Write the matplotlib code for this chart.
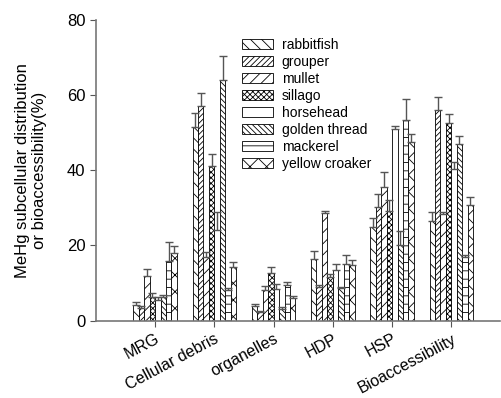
import numpy as np
import matplotlib.pyplot as plt

plt.rcParams['font.family'] = ['Liberation Sans', 'DejaVu Sans']
plt.rcParams['hatch.linewidth'] = 0.6

categories = ["MRG", "Cellular debris", "organelles", "HDP", "HSP", "Bioaccessibility"]
species = ["rabbitfish", "grouper", "mullet", "sillago", "horsehead",
           "golden thread", "mackerel", "yellow croaker"]

# mean values (%) per species, one entry per fraction
rabbitfish = [4.2, 51.5, 3.8, 16.5, 24.9, 26.5]
grouper = [3.4, 57.0, 2.4, 9.0, 30.1, 56.1]
mullet = [12.0, 17.0, 8.2, 28.5, 35.4, 28.3]
sillago = [6.3, 41.0, 12.6, 11.7, 29.1, 52.4]
horsehead = [5.5, 24.0, 8.5, 13.5, 50.8, 40.2]
golden_thread = [6.3, 64.0, 3.2, 8.6, 20.1, 46.9]
mackerel = [15.9, 8.1, 9.5, 15.0, 53.3, 17.0]
yellow_croaker = [18.1, 14.2, 6.0, 14.8, 47.5, 30.7]

# upper error (SD)
rabbitfish_err = [0.8, 3.8, 0.6, 2.1, 2.5, 2.3]
grouper_err = [0.4, 3.6, 0.3, 0.5, 3.5, 3.2]
mullet_err = [1.8, 1.2, 1.0, 0.7, 4.1, 0.6]
sillago_err = [1.2, 3.3, 1.7, 0.7, 2.9, 2.5]
horsehead_err = [0.9, 5.0, 1.3, 1.7, 0.9, 2.0]
golden_thread_err = [0.5, 6.3, 0.4, 0.4, 3.8, 2.2]
mackerel_err = [4.9, 0.6, 0.9, 2.4, 5.5, 0.6]
yellow_croaker_err = [1.7, 1.5, 0.6, 1.3, 2.2, 2.2]

means = [rabbitfish, grouper, mullet, sillago, horsehead, golden_thread, mackerel, yellow_croaker]
errs = [rabbitfish_err, grouper_err, mullet_err, sillago_err, horsehead_err,
        golden_thread_err, mackerel_err, yellow_croaker_err]
hatches = ['\\\\\\', '//////', '///', 'xxxxxx', '', '\\\\\\\\\\\\', '--', 'xx']

fig = plt.figure(figsize=(5.02, 3.98), dpi=100)
ax = fig.add_axes([0.191, 0.194, 0.806, 0.757])

x = np.arange(1, len(categories) + 1)
w = 0.092
n = len(species)
for i in range(n):
    pos = x + (i - (n - 1) / 2) * w
    ax.bar(pos, means[i], width=w, color='white', edgecolor='black',
           linewidth=0.6, hatch=hatches[i], label=species[i], zorder=2)
    ax.errorbar(pos, means[i], yerr=[np.zeros(len(x)), errs[i]], fmt='none',
                ecolor='#555555', elinewidth=1.0, capsize=3, capthick=1.0, zorder=3)

ax.set_xlim(0, 6.83)
ax.set_ylim(0, 80)
ax.set_yticks([0, 20, 40, 60, 80])
ax.set_xticks(x)
ax.set_xticklabels(categories, rotation=28, ha='right', rotation_mode='anchor', fontsize=11.5)
ax.tick_params(axis='y', labelsize=12, direction='out', length=4, color='#555555')
ax.tick_params(axis='x', direction='out', length=4, color='#555555')
for s in ['top', 'right']:
    ax.spines[s].set_visible(False)
for s in ['left', 'bottom']:
    ax.spines[s].set_color('#777777')
    ax.spines[s].set_linewidth(1.2)

ax.set_ylabel("MeHg subcellular distribution\nor bioaccessibility(%)", fontsize=12)
ax.yaxis.set_label_coords(-0.12, 0.5)

ax.legend(loc='upper left', bbox_to_anchor=(0.36, 0.94), frameon=False, fontsize=10,
          handlelength=2.3, handleheight=0.75, labelspacing=0.22, handletextpad=0.6,
          borderpad=0, borderaxespad=0)

fig.savefig("out.png", dpi=100)
